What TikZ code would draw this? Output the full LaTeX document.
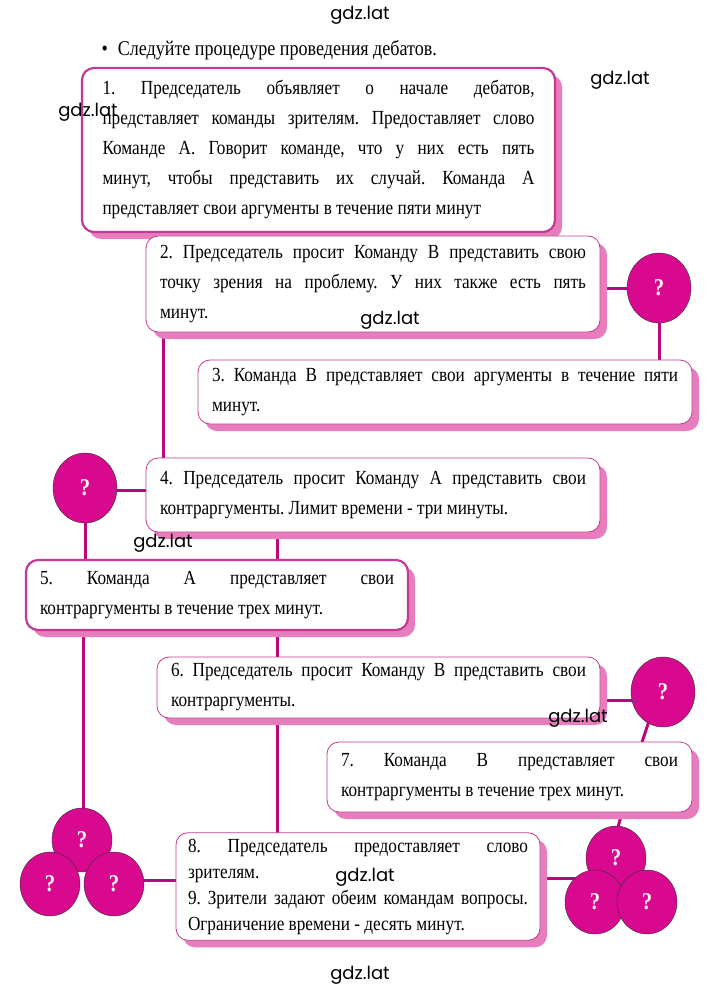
\documentclass[tikz,border=0pt]{standalone}
\usepackage{fontspec}
\setmainfont{Liberation Serif}[FakeStretch=0.86]
\newfontfamily\wmfont{Poppins}
\usetikzlibrary{shapes,shadows}
\definecolor{rim}{HTML}{C23A92}
\definecolor{shade}{HTML}{E77DBD}
\definecolor{ball}{HTML}{D8098F}
\frenchspacing
\tikzset{
 box/.style={rounded corners=12pt,draw=rim,thick,fill=white,align=justify,inner xsep=14pt,inner ysep=6pt,
  font=\fontsize{20}{30}\selectfont\frenchspacing,
  drop shadow={shadow xshift=7pt,shadow yshift=-7pt,fill=shade,opacity=1}},
 q/.style={ellipse,draw=black!80,fill=ball,minimum width=64pt,minimum height=70pt,inner sep=0pt,
  font=\bfseries\fontsize{24}{24}\selectfont,text=white!92!pink},
 qs/.style={q,minimum width=60pt,minimum height=64pt},
 ln/.style={draw=ball!85!black,line width=3pt},
 wm/.style={font=\wmfont\fontsize{18}{18}\selectfont}
}
\begin{document}
\begin{tikzpicture}[x=1pt,y=-1pt]
\useasboundingbox (0,0) rectangle (720,992);
% connectors
\coordinate (v1) at (163,332); \coordinate (v2) at (163,458);
\draw[ln] (v1) -- (v2);
\coordinate (v3) at (277,532); \coordinate (v4) at (277,560);
\draw[ln] (v3) -- (v4);
\coordinate (v5) at (83,630); \coordinate (v6) at (83,812);
\draw[ln] (v5) -- (v6);
\coordinate (v7) at (277,630); \coordinate (v8) at (277,833);
\draw[ln] (v7) -- (v8);
\coordinate (v9) at (659,300); \coordinate (v10) at (659,360);
\draw[ln] (v9) -- (v10);
\coordinate (v11) at (85,500); \coordinate (v12) at (85,560);
\draw[ln] (v11) -- (v12);
\coordinate (v13) at (652,712); \coordinate (v14) at (642,742);
\draw[ln] (v13) -- (v14);
\coordinate (v15) at (622,812); \coordinate (v16) at (616,835);
\draw[ln] (v15) -- (v16);
\draw[ln] (590,288) -- (640,288);
\draw[ln] (100,490) -- (160,490);
\draw[ln] (590,700) -- (640,700);
\draw[ln] (130,880) -- (190,880);
\draw[ln] (530,878) -- (580,878);
% boxes
\node[box,line width=2.2pt,minimum width=473pt,minimum height=164pt,text width=432pt] (b1) at (318.5,150) {1. Председатель объявляет о начале дебатов,\linebreak представляет команды зрителям. Предоставляет слово\linebreak Команде А. Говорит команде, что у них есть пять\linebreak минут, чтобы представить их случай. Команда А\linebreak представляет свои аргументы в течение пяти минут};
\node[box,minimum width=454pt,minimum height=96pt,text width=426pt] (b2) at (373,284) {2. Председатель просит Команду В представить свою\linebreak точку зрения на проблему. У них также есть пять\linebreak минут.};
\node[box,minimum width=494pt,minimum height=64pt,text width=466pt] (b3) at (445,392) {3. Команда В представляет свои аргументы в течение пяти\linebreak минут.};
\node[box,minimum width=454pt,minimum height=74pt,text width=426pt] (b4) at (373,495) {4. Председатель просит Команду А представить свои\linebreak контраргументы. Лимит времени - три минуты.};
\node[box,line width=2.2pt,minimum width=382pt,minimum height=70pt,text width=354pt] (b5) at (217,595) {5. Команда А представляет свои\linebreak контраргументы в течение трех минут.};
\node[box,minimum width=443pt,minimum height=61pt,text width=415pt] (b6) at (378.5,687.5) {6. Председатель просит Команду В представить свои\linebreak контраргументы.};
\node[box,minimum width=365pt,minimum height=70pt,text width=337pt] (b7) at (509.5,777) {7. Команда В представляет свои\linebreak контраргументы в течение трех минут.};
\node[box,minimum width=364pt,minimum height=107pt,text width=340pt,inner xsep=12pt,font=\fontsize{20}{26}\selectfont\frenchspacing] (b8) at (358,886.5) {8. Председатель предоставляет слово\linebreak зрителям.\\9. Зрители задают обеим командам вопросы.\linebreak Ограничение времени - десять минут.};
% question marks
\node[q] (q2) at (659,288) {?};
\node[q] (q4) at (85,488) {?};
\node[q] (q6) at (663,692) {?};
\node[qs] (l1) at (82,840) {?};
\node[qs] (l2) at (50,884) {?};
\node[qs] (l3) at (114,884) {?};
\node[qs] (r1) at (616,858) {?};
\node[qs] (r2) at (595,902) {?};
\node[qs] (r3) at (647,902) {?};
% heading and marks
\node[anchor=west,font=\fontsize{21}{22}\selectfont] (head) at (98,50) {\textbullet\hspace{10pt}Следуйте процедуре проведения дебатов.};
\node[wm] (w1) at (360,15) {gdz.lat};
\node[wm] (w2) at (620,80) {gdz.lat};
\node[wm] (w3) at (88,112) {gdz.lat};
\node[wm] (w4) at (390,320) {gdz.lat};
\node[wm] (w5) at (163,543) {gdz.lat};
\node[wm] (w6) at (578,718) {gdz.lat};
\node[wm] (w7) at (365,877) {gdz.lat};
\node[wm] (w8) at (360,975) {gdz.lat};
\end{tikzpicture}
\end{document}
